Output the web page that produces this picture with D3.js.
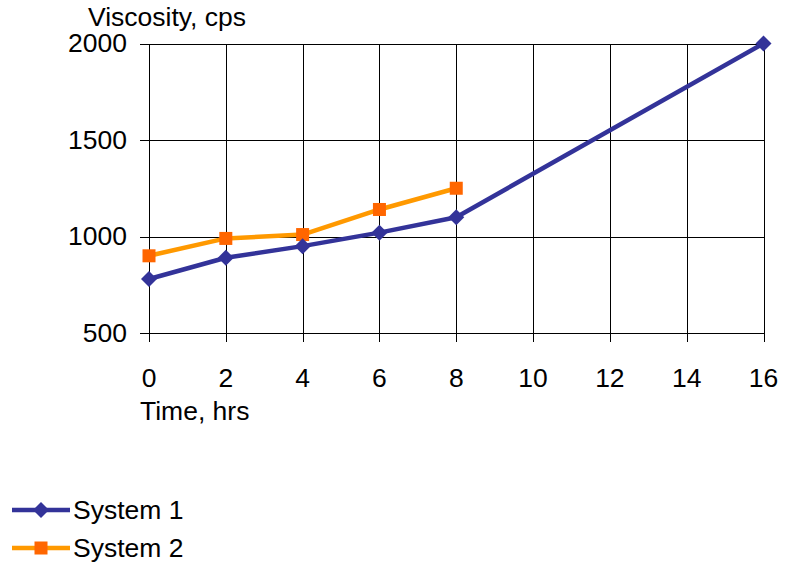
<!DOCTYPE html>
<html>
<head>
<meta charset="utf-8">
<script src="https://cdn.jsdelivr.net/npm/d3@7"></script>
<style>
  html, body { margin: 0; padding: 0; background: #fff; }
  svg { display: block; }
  text { font-family: "Liberation Sans", Arial, sans-serif; fill: #000; }
</style>
</head>
<body>
<svg id="chart" width="794" height="567"></svg>
<script>
// Viscosity over time for two systems
const hours = [0, 2, 4, 6, 8, 10, 12, 14, 16];
const system1Hours = [0, 2, 4, 6, 8, 16];
const system1Values = [780, 890, 950, 1020, 1100, 2000];
const system2Hours = [0, 2, 4, 6, 8];
const system2Values = [900, 990, 1010, 1140, 1250];
const yTicks = [500, 1000, 1500, 2000];
const seriesNames = ["System 1", "System 2"];

const svg = d3.select("#chart");
const fontSize = 25;
const stretch = 1.06;

// text placed at (px, py), slightly widened horizontally
function label(sel, px, py) {
  return sel.attr("x", 0).attr("y", 0)
    .attr("font-size", fontSize)
    .attr("transform", `translate(${px},${py}) scale(${stretch},1)`);
}

const x = d3.scaleLinear().domain([0, 16]).range([149, 763.5]);
const y = d3.scaleLinear().domain([500, 2000]).range([333, 43.5]);

const grid = svg.append("g").attr("stroke", "#000").attr("stroke-width", 1).attr("shape-rendering", "crispEdges");

// horizontal gridlines with left tick marks
grid.selectAll("line.h").data(yTicks).join("line")
  .attr("x1", x(0) - 9).attr("x2", x(16))
  .attr("y1", d => Math.round(y(d)) + 0.5).attr("y2", d => Math.round(y(d)) + 0.5);

// vertical gridlines with bottom tick marks
grid.selectAll("line.v").data(hours).join("line")
  .attr("x1", d => Math.round(x(d)) + 0.5).attr("x2", d => Math.round(x(d)) + 0.5)
  .attr("y1", y(2000)).attr("y2", y(500) + 9);

// y tick labels
svg.selectAll("text.yt").data(yTicks).join("text")
  .attr("class", "yt")
  .attr("text-anchor", "end")
  .each(function (d) { label(d3.select(this), 127, y(d) + 8.5); })
  .text(d => d);

// x tick labels
svg.selectAll("text.xt").data(hours).join("text")
  .attr("class", "xt")
  .attr("text-anchor", "middle")
  .each(function (d) { label(d3.select(this), x(d), 386.5); })
  .text(d => d);

// axis titles
label(svg.append("text"), 88, 26).text("Viscosity, cps");
label(svg.append("text"), 140, 420).text("Time, hrs");

const line = d3.line().x(d => x(d[0])).y(d => y(d[1]));
const s1 = system1Hours.map((h, i) => [h, system1Values[i]]);
const s2 = system2Hours.map((h, i) => [h, system2Values[i]]);

const blue = "#333399", orange = "#FF9900", orangeMarker = "#FF6600";
const diamond = (g, cx, cy, r) =>
  g.append("path").attr("d", `M${cx},${cy - r}L${cx + r},${cy}L${cx},${cy + r}L${cx - r},${cy}Z`).attr("fill", blue);

// System 2
svg.append("path").datum(s2).attr("d", line)
  .attr("fill", "none").attr("stroke", orange).attr("stroke-width", 4.5).attr("stroke-linejoin", "round");
svg.selectAll("rect.s2").data(s2).join("rect")
  .attr("x", d => x(d[0]) - 6.5).attr("y", d => y(d[1]) - 6.5)
  .attr("width", 13).attr("height", 13).attr("fill", orangeMarker);

// System 1
svg.append("path").datum(s1).attr("d", line)
  .attr("fill", "none").attr("stroke", blue).attr("stroke-width", 4.5).attr("stroke-linejoin", "round");
const m1 = svg.append("g");
s1.forEach(d => diamond(m1, x(d[0]), y(d[1]), 8));

// legend
const lg = svg.append("g");
lg.append("line").attr("x1", 12).attr("x2", 70).attr("y1", 510).attr("y2", 510).attr("stroke", blue).attr("stroke-width", 4.5);
diamond(lg, 41, 510, 8);
label(lg.append("text"), 73, 519).text(seriesNames[0]);
lg.append("line").attr("x1", 12).attr("x2", 70).attr("y1", 548).attr("y2", 548).attr("stroke", orange).attr("stroke-width", 4.5);
lg.append("rect").attr("x", 34.5).attr("y", 541.5).attr("width", 13).attr("height", 13).attr("fill", orangeMarker);
label(lg.append("text"), 73, 557).text(seriesNames[1]);
</script>
</body>
</html>
